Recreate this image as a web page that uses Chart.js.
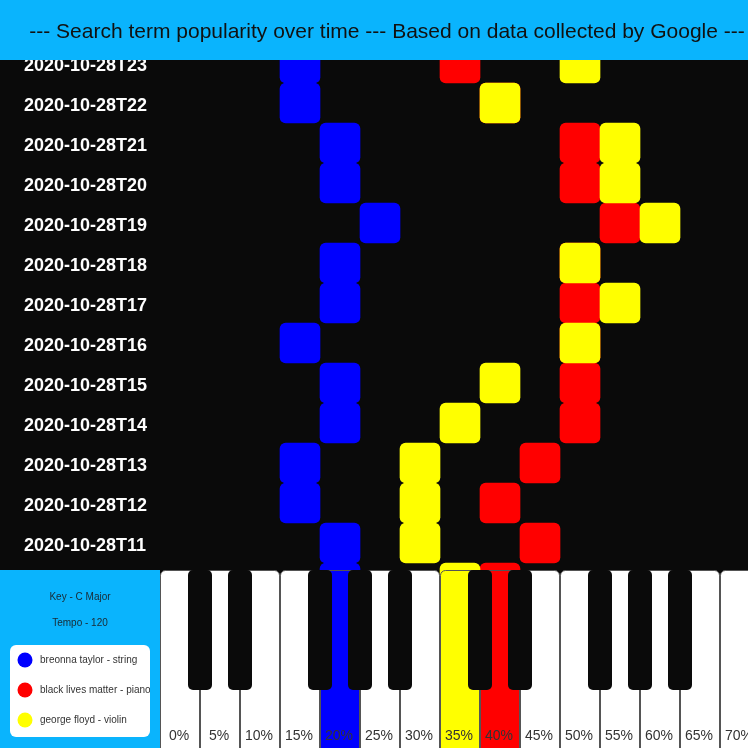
<!DOCTYPE html>
<html>
<head>
<meta charset="utf-8">
<script src="https://cdn.jsdelivr.net/npm/chart.js@4.4.1/dist/chart.umd.min.js"></script>
<style>
html,body{margin:0;padding:0;background:#0a0a0a;overflow:hidden;}
canvas{display:block;}
</style>
</head>
<body>
<canvas id="c" width="748" height="748"></canvas>
<script>
// ---- data ----
const hours = ['2020-10-28T23','2020-10-28T22','2020-10-28T21','2020-10-28T20','2020-10-28T19','2020-10-28T18','2020-10-28T17','2020-10-28T16','2020-10-28T15','2020-10-28T14','2020-10-28T13','2020-10-28T12','2020-10-28T11','2020-10-28T10'];
const breonnaTaylor    = [15,15,20,20,25,20,20,15,20,20,15,15,20,20];
const blackLivesMatter = [35,40,50,50,55,50,50,50,50,50,45,40,45,40];
const georgeFloyd      = [50,40,55,55,60,50,55,50,40,35,30,30,30,35];
const seriesNames  = ['breonna taylor - string','black lives matter - piano','george floyd - violin'];
const seriesColors = ['#0000ff','#ff0000','#ffff00'];
const keyValues = [0,5,10,15,20,25,30,35,40,45,50,55,60,65,70];
const keyLabels = ['0%','5%','10%','15%','20%','25%','30%','35%','40%','45%','50%','55%','60%','65%','70%'];
const titleText = '--- Search term popularity over time --- Based on data collected by Google ---';
const keyText = 'Key - C Major';
const tempoText = 'Tempo - 120';
const noteStep = 5;

const FONT = '"Liberation Sans", Arial, sans-serif';
const CYAN = '#0ab4fd';
const BG = '#0a0a0a';

function notes(arr){ return arr.map(v => [v, v + noteStep]); }
const allSeries = [breonnaTaylor, blackLivesMatter, georgeFloyd];

const pianoPlugin = {
  id: 'piano',
  beforeDraw(chart){
    const ctx = chart.ctx;
    ctx.save();
    ctx.fillStyle = BG;
    ctx.fillRect(0,0,chart.width,chart.height);
    ctx.restore();
  },
  afterDraw(chart){
    const ctx = chart.ctx;
    const xs = chart.scales.x;
    const W = chart.width, H = chart.height;
    const pianoTop = 570;
    const last = hours.length - 1;
    ctx.save();
    // banner
    ctx.fillStyle = CYAN;
    ctx.fillRect(0,0,W,60);
    ctx.fillStyle = '#111';
    ctx.font = '21px ' + FONT;
    ctx.textAlign = 'center';
    ctx.textBaseline = 'alphabetic';
    ctx.fillText(titleText, 387, 38);

    // white keys
    keyValues.forEach((v,i) => {
      const x0 = xs.getPixelForValue(v);
      const x1 = xs.getPixelForValue(v + noteStep);
      let fill = '#ffffff';
      allSeries.forEach((s,k) => { if (s[last] === v) fill = seriesColors[k]; });
      ctx.beginPath();
      ctx.roundRect(x0 + 0.5, pianoTop + 0.5, x1 - x0 - 1, 220, 5);
      ctx.fillStyle = fill;
      ctx.fill();
      ctx.lineWidth = 1;
      ctx.strokeStyle = '#555';
      ctx.stroke();
    });
    // black keys
    keyValues.forEach((v,i) => {
      const m = i % 7;
      if (i < keyValues.length - 1 && [0,1,3,4,5].includes(m)) {
        const cx = xs.getPixelForValue(v + noteStep);
        ctx.beginPath();
        ctx.roundRect(cx - 12, pianoTop, 24, 120, 5);
        ctx.fillStyle = BG;
        ctx.fill();
      }
    });
    // key labels
    ctx.fillStyle = '#333';
    ctx.font = '14px ' + FONT;
    ctx.textAlign = 'center';
    keyValues.forEach((v,i) => {
      const cx = (xs.getPixelForValue(v) + xs.getPixelForValue(v + noteStep)) / 2;
      ctx.fillText(keyLabels[i], cx - 1, 740);
    });

    // left panel
    ctx.fillStyle = CYAN;
    ctx.fillRect(0, pianoTop, xs.left, H - pianoTop);
    ctx.fillStyle = '#1a2a33';
    ctx.font = '10px ' + FONT;
    ctx.textAlign = 'center';
    ctx.textBaseline = 'middle';
    ctx.fillText(keyText, 80, 597);
    ctx.fillText(tempoText, 80, 623);
    // legend box
    ctx.beginPath();
    ctx.roundRect(10, 645, 140, 92, 6);
    ctx.fillStyle = '#ffffff';
    ctx.fill();
    ctx.save();
    ctx.beginPath();
    ctx.rect(10, 645, 140, 92);
    ctx.clip();
    seriesNames.forEach((name,k) => {
      const y = 660 + k * 30;
      ctx.beginPath();
      ctx.arc(25, y, 7.5, 0, Math.PI * 2);
      ctx.fillStyle = seriesColors[k];
      ctx.fill();
      ctx.fillStyle = '#333';
      ctx.textAlign = 'left';
      ctx.fillText(name, 40, y);
    });
    ctx.restore();
    ctx.restore();
  }
};

new Chart(document.getElementById('c'), {
  type: 'bar',
  data: {
    labels: hours,
    datasets: [
      { label: seriesNames[0], data: notes(breonnaTaylor), backgroundColor: seriesColors[0], order: 3 },
      { label: seriesNames[1], data: notes(blackLivesMatter), backgroundColor: seriesColors[1], order: 2 },
      { label: seriesNames[2], data: notes(georgeFloyd), backgroundColor: seriesColors[2], order: 1 }
    ].map(d => Object.assign(d, { barPercentage: 1, categoryPercentage: 1, borderRadius: 6, borderSkipped: false, grouped: false }))
  },
  options: {
    indexAxis: 'y',
    responsive: false,
    animation: false,
    devicePixelRatio: 1,
    layout: { padding: { top: 43, bottom: 145, left: 24, right: 0 } },
    plugins: { legend: { display: false }, tooltip: { enabled: false } },
    scales: {
      x: { type: 'linear', min: 0, max: 73.5, display: false },
      y: {
        type: 'category',
        grid: { display: false, drawTicks: false },
        border: { display: false },
        ticks: { color: '#ffffff', font: { size: 18, weight: 'bold', family: FONT }, padding: 13, labelOffset: 3, autoSkip: false, crossAlign: 'far' },
        afterFit(s){ s.width = 136; }
      }
    }
  },
  plugins: [pianoPlugin]
});
</script>
</body>
</html>
